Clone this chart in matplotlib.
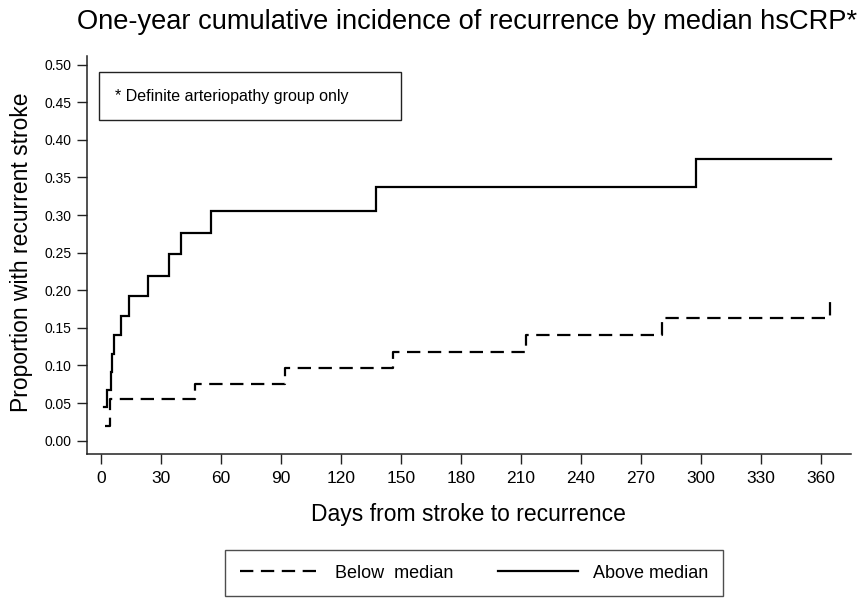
import matplotlib
matplotlib.use("Agg")
import matplotlib.pyplot as plt
from matplotlib.patches import Rectangle
from matplotlib.lines import Line2D
import warnings
warnings.filterwarnings("ignore")

# ---- data ----
below_days = [2, 4.5, 47, 92, 146, 212.6, 280.5, 364.6]
below_vals = [0.019, 0.055, 0.076, 0.096, 0.118, 0.141, 0.163, 0.187]

above_days = [1.7, 3.0, 5.1, 5.8, 6.8, 10, 14.3, 23.5, 34.2, 40, 55, 137.5, 297.5, 365]
above_vals = [0.045, 0.068, 0.092, 0.115, 0.141, 0.166, 0.192, 0.219, 0.248, 0.276,
              0.305, 0.338, 0.375, 0.375]

x_ticks = list(range(0, 361, 30))
y_ticks = [i * 0.05 for i in range(11)]

title = "One-year cumulative incidence of recurrence by median hsCRP*"
x_label = "Days from stroke to recurrence"
y_label = "Proportion with recurrent stroke"
note = "* Definite arteriopathy group only"
series_labels = ["Below  median", "Above median"]

FONT = ["Liberation Sans", "DejaVu Sans"]

W, H = 864, 601
fig = plt.figure(figsize=(W / 100, H / 100), dpi=100)
fig.patch.set_facecolor("white")

ax = fig.add_axes([86.7 / W, 1 - 454 / H, (850.7 - 86.7) / W, (454 - 56.4) / H])
ax.set_xlim(-7, 375)
ax.set_ylim(-0.0177, 0.511)

lw = 1.6
dash = (0, (6.0, 3.4))
ax.step(below_days, below_vals, where="post", color="black", lw=lw,
        linestyle=dash, solid_joinstyle="miter")
ax.step(above_days, above_vals, where="post", color="black", lw=lw,
        solid_joinstyle="miter")

for s in ["top", "right"]:
    ax.spines[s].set_visible(False)
for s in ["left", "bottom"]:
    ax.spines[s].set_linewidth(1.1)
    ax.spines[s].set_color("#222222")

ax.set_xticks(x_ticks)
ax.set_xticklabels([str(t) for t in x_ticks], fontfamily=FONT, fontsize=12.5)
ax.set_yticks(y_ticks)
ax.set_yticklabels([f"{t:.2f}" for t in y_ticks], fontfamily=FONT, fontsize=10)
ax.tick_params(axis="x", length=7, width=1.0, pad=5, color="#222222")
ax.tick_params(axis="y", length=7, width=1.0, pad=4, color="#222222")

fig.text(22 / W, 1 - 252 / H, y_label, rotation=90, ha="center", va="center",
         fontfamily=FONT, fontsize=16.5)
fig.text(468 / W, 1 - 514 / H, x_label, ha="center", va="center",
         fontfamily=FONT, fontsize=16.5)
fig.text(467 / W, 1 - 22 / H, title, ha="center", va="center",
         fontfamily=FONT, fontsize=19.6)

# note box
fig.add_artist(Rectangle((99.3 / W, 1 - 120 / H), (400.7 - 99.3) / W, (120 - 72.3) / H,
                         transform=fig.transFigure, fill=False, lw=1.0,
                         edgecolor="#222222"))
fig.text(115 / W, 1 - 97 / H, note, ha="left", va="center",
         fontfamily=FONT, fontsize=11.5)

handles = [Line2D([], [], color="black", lw=lw, linestyle=dash),
           Line2D([], [], color="black", lw=lw)]
leg = fig.legend(handles, series_labels, loc="center",
                 bbox_to_anchor=(474 / W, 1 - 573 / H), ncol=2,
                 prop={"family": FONT, "size": 13}, frameon=True,
                 fancybox=False, edgecolor="#222222", handlelength=4.4,
                 columnspacing=2.5, handletextpad=0.85, borderpad=0.8,
                 borderaxespad=0)
leg.get_frame().set_linewidth(1.0)

fig.savefig("out.png", dpi=100, facecolor="white")
